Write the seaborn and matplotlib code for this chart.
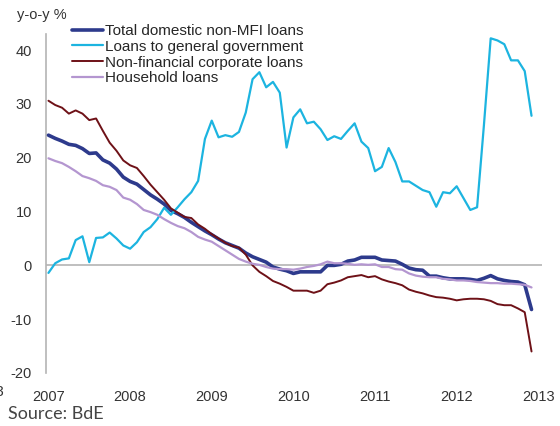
import seaborn as sns
import matplotlib.pyplot as plt
import pandas as pd
import numpy as np

# monthly y-o-y growth, Jan 2007 - Dec 2012
total = [24.2, 23.6, 23.1, 22.5, 22.3, 21.7, 20.8, 20.9, 19.6, 19.0, 17.9, 16.4,
         15.6, 15.1, 14.1, 13.1, 12.3, 11.4, 10.2, 9.6, 8.9, 8.0, 7.2, 6.4,
         5.7, 4.9, 4.2, 3.7, 3.2, 2.3, 1.6, 1.1, 0.6, -0.3, -0.7, -1.0,
         -1.5, -1.2, -1.2, -1.2, -1.2, 0.0, 0.0, 0.2, 0.8, 1.0, 1.5, 1.5,
         1.5, 1.0, 0.9, 0.8, 0.2, -0.5, -0.8, -0.9, -2.0, -2.0, -2.3, -2.5,
         -2.5, -2.5, -2.6, -2.8, -2.4, -1.9, -2.5, -2.8, -3.0, -3.1, -3.6, -8.2]
government = [-1.4, 0.4, 1.1, 1.3, 4.7, 5.4, 0.6, 5.1, 5.2, 6.1, 5.0, 3.7,
              3.1, 4.3, 6.2, 7.1, 8.6, 10.7, 9.4, 10.8, 12.3, 13.6, 15.7, 23.5,
              26.9, 23.8, 24.2, 23.9, 24.8, 28.4, 34.6, 35.9, 33.1, 34.1, 32.1, 21.9,
              27.5, 29.0, 26.4, 26.7, 25.3, 23.3, 24.0, 23.5, 25.0, 26.4, 23.0, 21.8,
              17.5, 18.3, 21.8, 19.2, 15.6, 15.6, 14.8, 14.0, 13.6, 10.9, 13.6, 13.4,
              14.7, 12.5, 10.3, 10.8, 26.0, 42.2, 41.8, 41.1, 38.1, 38.1, 36.1, 27.8]
corporate = [30.6, 29.8, 29.3, 28.2, 28.8, 28.2, 27.0, 27.3, 25.0, 22.8, 21.3, 19.5,
             18.6, 18.1, 16.6, 15.0, 13.6, 12.2, 10.6, 9.8, 9.0, 8.8, 7.6, 6.8,
             5.8, 5.0, 4.2, 3.6, 3.3, 2.0, 0.0, -1.2, -2.0, -2.9, -3.4, -4.0,
             -4.7, -4.7, -4.7, -5.1, -4.7, -3.5, -3.2, -2.8, -2.2, -2.0, -1.8, -2.2,
             -2.0, -2.6, -3.0, -3.3, -3.7, -4.5, -4.9, -5.2, -5.6, -5.9, -6.0, -6.2,
             -6.5, -6.3, -6.2, -6.2, -6.3, -6.6, -7.2, -7.4, -7.4, -8.0, -8.7, -16.0]
household = [19.9, 19.4, 19.0, 18.3, 17.5, 16.6, 16.2, 15.7, 14.9, 14.6, 14.0, 12.6,
             12.2, 11.4, 10.3, 9.9, 9.4, 8.6, 7.9, 7.3, 6.9, 6.2, 5.3, 4.8,
             4.4, 3.6, 2.8, 2.0, 1.2, 0.7, 0.3, 0.1, -0.3, -0.6, -0.7, -0.7,
             -0.8, -0.6, -0.3, -0.1, 0.2, 0.7, 0.4, 0.4, 0.3, 0.1, 0.2, 0.1,
             0.2, -0.3, -0.3, -0.7, -0.8, -1.5, -1.9, -2.1, -2.2, -2.2, -2.5, -2.6,
             -2.8, -2.8, -2.9, -3.1, -3.2, -3.3, -3.3, -3.4, -3.4, -3.5, -3.6, -4.1]

labels = ['Total domestic non-MFI loans', 'Loans to general government',
          'Non-financial corporate loans', 'Household loans']
colors = ['#2d3a8c', '#1cb4e0', '#6e1117', '#b496d0']
widths = [2.6, 1.6, 1.4, 1.6]
years = list(range(2007, 2014))

months = 2007 + np.arange(len(total)) / 12
df = pd.DataFrame({'date': months, labels[0]: total, labels[1]: government,
                   labels[2]: corporate, labels[3]: household})

sns.set_theme(style="white")
plt.rcParams['font.family'] = ['Liberation Sans', 'DejaVu Sans']
plt.rcParams['axes.unicode_minus'] = False

fig = plt.figure(figsize=(5.6, 4.26), dpi=100)
ax = fig.add_axes([46 / 560, 1 - 373 / 426, 496 / 560, 339 / 426])

ax.axhline(0, color='#b4b4b4', lw=1.2, zorder=1)
for lab, c, w in zip(labels, colors, widths):
    sns.lineplot(data=df, x='date', y=lab, ax=ax, color=c, lw=w, label=lab, zorder=3)

ax.set_xlim(2006.97, 2013.045)
ax.set_ylim(-20, 43)
ax.set_xticks(years)
ax.set_xticklabels([str(y) for y in years])
ax.set_yticks([-20, -10, 0, 10, 20, 30, 40])
ax.tick_params(axis='both', length=0, labelsize=10.5, labelcolor='#333333')
ax.tick_params(axis='y', pad=10)
ax.tick_params(axis='x', pad=12)
ax.set_xlabel('')
ax.set_ylabel('')
for s in ['top', 'right', 'bottom']:
    ax.spines[s].set_visible(False)
ax.spines['left'].set_color('#b4b4b4')
ax.spines['left'].set_linewidth(1.2)

ax.legend_.remove()
handles, labs = ax.get_legend_handles_labels()
fig.legend(handles, labs, loc='upper left', bbox_to_anchor=(72 / 560, 1 - 24 / 426),
           frameon=False, fontsize=11, handlelength=2.0, handletextpad=0.15,
           labelspacing=0.12, borderpad=0, borderaxespad=0)

fig.text(17 / 560, 1 - 15 / 426, 'y-o-y %', fontsize=10.5, color='#333333', va='center')
fig.text(8 / 560, 1 - 414 / 426, 'Source: BdE', fontsize=13, color='#444444',
         va='center', family=['Lato', 'DejaVu Sans'])
fig.text(3.5 / 560, 1 - 392 / 426, '2003', fontsize=10.5, color='#333333', ha='right', va='center')

fig.savefig('out.png', dpi=100)
